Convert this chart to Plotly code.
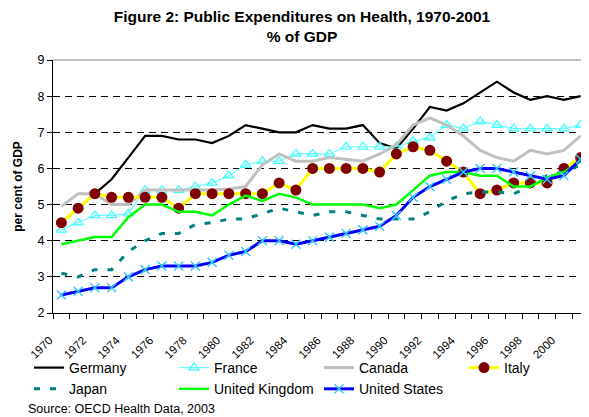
import plotly.graph_objects as go

years = list(range(1970, 2002))

germany = [4.5, 4.9, 5.3, 5.7, 6.3, 6.9, 6.9, 6.8, 6.8, 6.7, 6.9, 7.2, 7.1, 7.0, 7.0, 7.2,
           7.1, 7.1, 7.2, 6.7, 6.55, 7.1, 7.7, 7.6, 7.8, 8.1, 8.4, 8.1, 7.9, 8.0, 7.9, 8.0]
france = [4.3, 4.5, 4.7, 4.7, 4.75, 5.4, 5.4, 5.4, 5.5, 5.6, 5.8, 6.1, 6.2, 6.2, 6.4, 6.4,
          6.4, 6.6, 6.6, 6.6, 6.6, 6.75, 6.85, 7.2, 7.1, 7.3, 7.2, 7.1, 7.1, 7.1, 7.1, 7.2]
canada = [4.95, 5.3, 5.3, 5.0, 5.0, 5.4, 5.4, 5.4, 5.4, 5.4, 5.43, 5.5, 6.1, 6.4, 6.2, 6.2,
          6.3, 6.25, 6.2, 6.4, 6.65, 7.2, 7.4, 7.2, 6.9, 6.5, 6.3, 6.2, 6.5, 6.4, 6.5, 6.9]
italy = [4.5, 4.9, 5.3, 5.2, 5.2, 5.2, 5.2, 4.9, 5.3, 5.3, 5.3, 5.3, 5.3, 5.6, 5.4, 6.0,
         6.0, 6.0, 6.0, 5.9, 6.4, 6.6, 6.5, 6.2, 5.9, 5.3, 5.4, 5.6, 5.6, 5.6, 6.0, 6.3]
japan = [3.1, 3.0, 3.2, 3.2, 3.7, 4.0, 4.2, 4.2, 4.45, 4.5, 4.6, 4.6, 4.75, 4.9, 4.8, 4.7,
         4.8, 4.8, 4.7, 4.6, 4.6, 4.6, 4.8, 5.1, 5.3, 5.35, 5.35, 5.3, 5.5, 5.8, 5.9, 6.1]
uk = [3.9, 4.0, 4.1, 4.1, 4.65, 5.0, 5.0, 4.8, 4.8, 4.7, 5.0, 5.25, 5.1, 5.3, 5.2, 5.0,
      5.0, 5.0, 5.0, 4.9, 5.0, 5.4, 5.8, 5.9, 5.9, 5.8, 5.8, 5.5, 5.5, 5.75, 5.9, 6.2]
usa = [2.5, 2.6, 2.7, 2.7, 3.0, 3.2, 3.3, 3.3, 3.3, 3.4, 3.6, 3.7, 4.0, 4.0, 3.9, 4.0,
       4.1, 4.2, 4.3, 4.4, 4.7, 5.2, 5.5, 5.7, 5.9, 6.0, 6.0, 5.9, 5.8, 5.7, 5.8, 6.25]

label_years = list(range(1970, 2001, 2))
label_text = [str(y) for y in label_years]
y_ticks = [2, 3, 4, 5, 6, 7, 8, 9]

# The page body adds an 8px offset, so the figure is 8px smaller than the window.
W, H = 581, 409
L, T, B = 45, 52, 104
PW, PH = W - L, H - T - B

fig = go.Figure()
fig.add_trace(go.Scatter(x=years, y=germany, name="Germany", mode="lines",
                         line=dict(color="#000000", width=2.2)))
fig.add_trace(go.Scatter(x=years, y=france, name="France", mode="lines+markers",
                         line=dict(color="#66FFFF", width=1.2),
                         marker=dict(symbol="triangle-up-open", size=9,
                                     color="#33FFFF", line=dict(width=1.2, color="#33FFFF"))))
fig.add_trace(go.Scatter(x=years, y=canada, name="Canada", mode="lines",
                         line=dict(color="#C0C0C0", width=3)))
fig.add_trace(go.Scatter(x=years, y=italy, name="Italy", mode="lines+markers",
                         line=dict(color="#FFFF00", width=3),
                         marker=dict(symbol="circle", size=11, color="#800000")))
fig.add_trace(go.Scatter(x=years, y=japan, name="Japan", mode="lines",
                         line=dict(color="#008080", width=3, dash="6px,10px")))
fig.add_trace(go.Scatter(x=years, y=uk, name="United Kingdom", mode="lines",
                         line=dict(color="#00FF00", width=2.5)))
fig.add_trace(go.Scatter(x=years, y=usa, name="United States", mode="lines+markers",
                         line=dict(color="#0000FF", width=3),
                         marker=dict(symbol="x-thin-open", size=9,
                                     color="#33CCFF", line=dict(width=1.5, color="#33CCFF"))))

fig.update_layout(
    width=W, height=H,
    margin=dict(l=L, r=0, t=T, b=B, autoexpand=False),
    paper_bgcolor="white", plot_bgcolor="white",
    font=dict(family="Arial, Liberation Sans, sans-serif", color="#000000", size=12),
    title=dict(text="<b>Figure 2: Public Expenditures on Health, 1970-2001<br>% of GDP</b>",
               x=0.506, xref="container", xanchor="center", y=1 - 13.5 / H, yanchor="top",
               font=dict(size=15.5)),
    showlegend=True,
    legend=dict(orientation="h", x=(21 - L) / PW, xanchor="left",
                y=-(344 - (T + PH)) / PH, yanchor="top",
                font=dict(size=14), entrywidth=100, entrywidthmode="pixels",
                tracegroupgap=0, itemwidth=30, bgcolor="rgba(0,0,0,0)"),
)
fig.add_annotation(text="Source: OECD Health Data, 2003", xref="paper", yref="paper",
                   x=(18 - L) / PW, y=-(401 - (T + PH)) / PH, xanchor="left",
                   yanchor="middle", showarrow=False, font=dict(size=12.5))

fig.update_xaxes(
    range=[1969.5, 2001.5], tickmode="array", tickvals=label_years, ticktext=label_text,
    tickangle=-45, ticks="outside", ticklen=0, showgrid=False, zeroline=False,
    showline=True, linecolor="#000000", linewidth=1, tickfont=dict(size=11.5),
    ticklabelstandoff=15, ticklabelshift=-12,
    minor=dict(tickmode="array", tickvals=[y + 0.5 for y in range(1969, 2002)],
               ticks="outside", ticklen=5, tickcolor="#000000", showgrid=False),
)
fig.update_yaxes(
    range=[2, 9], tickmode="array", tickvals=y_ticks, ticks="outside", ticklen=5,
    tickcolor="#000000", showline=True, linecolor="#000000", linewidth=1,
    showgrid=True, gridcolor="#000000", gridwidth=1, griddash="7px,5px", zeroline=False,
    tickfont=dict(size=12.5),
    title=dict(text="<b>per cent of GDP</b>", font=dict(size=12), standoff=12),
)
fig.add_shape(type="line", xref="paper", yref="paper", x0=0, x1=1, y0=1, y1=1,
              line=dict(color="#808080", width=1), layer="above")

fig.write_html("out.html")
